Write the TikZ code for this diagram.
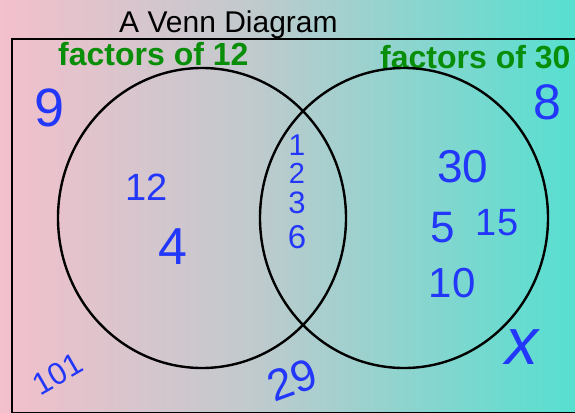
\documentclass[tikz,border=0pt]{standalone}
\usepackage{fontspec}
\setmainfont{Liberation Sans}
\definecolor{bgpink}{RGB}{243,192,204}
\definecolor{bgmid}{RGB}{192,202,205}
\definecolor{bgteal}{RGB}{86,223,208}
\definecolor{labgreen}{RGB}{8,142,8}
\definecolor{penblue}{RGB}{35,55,250}
\pgfdeclarehorizontalshading{bgshade}{100bp}{color(0bp)=(bgpink); color(25bp)=(bgpink); color(47bp)=(bgmid); color(75bp)=(bgteal); color(100bp)=(bgteal)}
\tikzset{
  setring/.style={draw=black, line width=2.4pt},
  titletext/.style={anchor=base west, inner sep=0pt, font=\fontsize{30}{31}\selectfont},
  setlabel/.style={anchor=base west, inner sep=0pt, text=labgreen, font=\fontsize{32}{33}\selectfont\bfseries},
  pen/.style={inner sep=0pt, text=penblue},
}
\begin{document}
\begin{tikzpicture}[x=1pt, y=-1pt]
\useasboundingbox (0,0) rectangle (575,412);
\fill[shading=bgshade] (0,0) rectangle (575,412);
\draw[line width=2.6pt] (12,39) rectangle (600,412.8);
\node[titletext] (title) at (119,33) {A Venn Diagram};
\node[setlabel] (lab12) at (58,65) {factors of 12};
\node[setlabel] (lab30) at (380,68) {factors of 30};
\draw[setring] (202,218) ellipse [x radius=144, y radius=150];
\draw[setring] (404,218) ellipse [x radius=144, y radius=150];
% outside both sets
\node[pen, font=\fontsize{54}{54}\selectfont] (n9) at (50,108) {9};
\node[pen, font=\fontsize{50}{50}\selectfont] (n8) at (547,102) {8};
\node[pen, font=\fontsize{31}{31}\selectfont, rotate=30] (n101) at (58,374) {101};
\node[pen, font=\fontsize{44}{44}\selectfont, rotate=20] (n29) at (292,380) {29};
\node[pen, font=\fontsize{66}{66}\selectfont\itshape] (nx) at (522,347) {x};
% factors of 12 only
\node[pen, font=\fontsize{38}{38}\selectfont] (n12) at (147,187) {12};
\node[pen, font=\fontsize{52}{52}\selectfont] (n4) at (173,247) {4};
% both
\node[pen, font=\fontsize{30}{30}\selectfont] (n1) at (297,145) {1};
\node[pen, font=\fontsize{29}{29}\selectfont] (n2) at (297,173) {2};
\node[pen, font=\fontsize{31}{31}\selectfont] (n3) at (297,203) {3};
\node[pen, font=\fontsize{33}{33}\selectfont] (n6) at (297,237) {6};
% factors of 30 only
\node[pen, font=\fontsize{46}{46}\selectfont] (n30) at (463,167) {30};
\node[pen, font=\fontsize{44}{44}\selectfont] (n5) at (443,228) {5};
\node[pen, font=\fontsize{38}{38}\selectfont] (n15) at (497,223) {15};
\node[pen, font=\fontsize{42}{42}\selectfont] (n10) at (452,283) {10};
\end{tikzpicture}
\end{document}
